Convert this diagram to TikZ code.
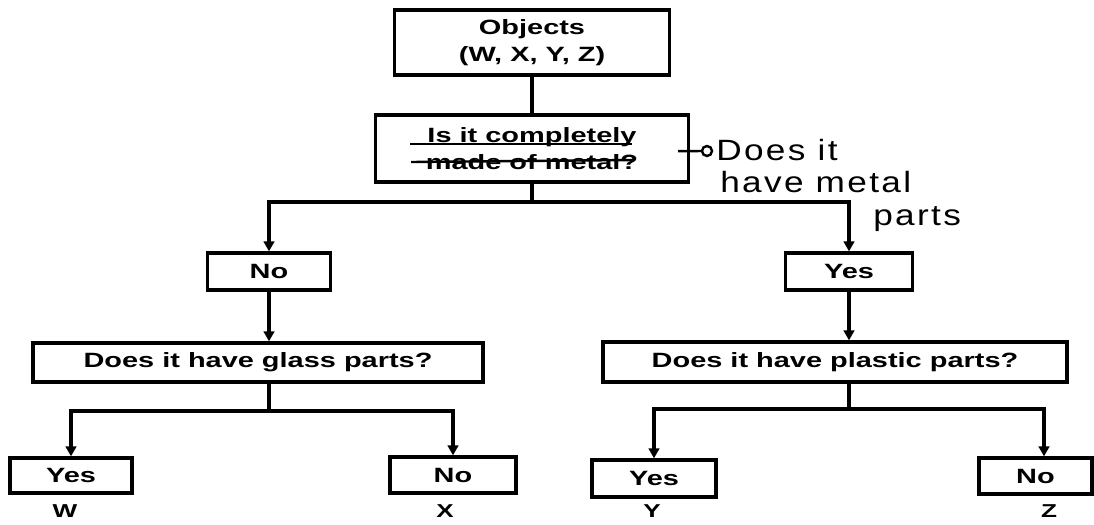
\documentclass[tikz,border=0pt]{standalone}
\usepackage{fontspec}
\setmainfont{Liberation Sans}
\newfontfamily\bx{Liberation Sans}[FakeStretch=1.4]
\newfontfamily\hand{Liberation Sans}[FakeStretch=1.2,LetterSpace=8]
\usetikzlibrary{arrows.meta}
\tikzset{
  box/.style={draw, line width=2.5pt, inner sep=0pt, align=center,
    font=\bx\bfseries\fontsize{15.5}{20}\selectfont},
  conn/.style={line width=2.6pt},
  arr/.style={conn, -{Triangle[length=7.5pt,width=8pt]}},
  lbl/.style={font=\bx\bfseries\fontsize{14}{16}\selectfont, inner sep=0pt},
  handtxt/.style={font=\hand\fontsize{22}{24}\selectfont, inner sep=0pt, anchor=base west},
  penline/.style={line width=1.8pt},
}
\begin{document}
\begin{tikzpicture}[x=0.75pt,y=-0.75pt]
\useasboundingbox (0,0) rectangle (1094,524);

% boxes
\node[box, minimum width=206.25pt, minimum height=48.75pt] (obj) at (532,42.5) {Objects\\(W, X, Y, Z)};
\node[box, minimum width=234.75pt, minimum height=50.25pt] (q1) at (532,148.5) {Is it completely\\made of metal?};
\node[box, minimum width=92.25pt, minimum height=27.75pt] (no1) at (269,271.5) {No};
\node[box, minimum width=95.25pt, minimum height=27.75pt] (yes1) at (849,271.5) {Yes};
\node[box, minimum width=337.5pt, minimum height=29.25pt] (glass) at (258,362.5) {Does it have glass parts?};
\node[box, minimum width=348pt, minimum height=30pt] (plastic) at (835,362) {Does it have plastic parts?};
\node[box, minimum width=91.5pt, minimum height=26.25pt] (yesW) at (71,475.5) {Yes};
\node[box, minimum width=94.5pt, minimum height=27pt] (noX) at (453,475) {No};
\node[box, minimum width=93pt, minimum height=27.75pt] (yesY) at (654,478.5) {Yes};
\node[box, minimum width=84.75pt, minimum height=27pt] (noZ) at (1035.5,476) {No};

% outcome labels
\node[lbl] (lw) at (65,511) {W};
\node[lbl] (lx) at (445,511) {X};
\node[lbl] (ly) at (652,511) {Y};
\node[lbl] (lz) at (1049,511) {Z};

% helper coordinates
\coordinate (h1) at (0,202);
\coordinate (h2) at (0,411);
\coordinate (h3) at (0,409);
\coordinate (zx) at (1044,0);

% connectors
\draw[conn] (obj) -- (q1);
\draw[conn] (q1.south) -- (q1.south |- h1);
\draw[arr] (q1.south |- h1) -| (no1.north);
\draw[arr] (q1.south |- h1) -| (yes1.north);
\draw[arr] (no1) -- (no1 |- glass.north);
\draw[arr] (yes1) -- (yes1 |- plastic.north);
\draw[conn] (no1 |- glass.south) -- (no1 |- h2);
\draw[arr] (no1 |- h2) -| (yesW.north);
\draw[arr] (no1 |- h2) -| (noX.north);
\draw[conn] (yes1 |- plastic.south) -- (yes1 |- h3);
\draw[arr] (yes1 |- h3) -| (yesY.north);
\draw[arr] (yes1 |- h3) -| (noZ.north -| zx);

% handwritten edits
\draw[penline] (410,144) -- (632,144);
\draw[penline] (411,162) -- (634,160);
\coordinate (circ) at (707,151);
\draw[penline, shorten >=3.75pt] ([xshift=-9pt,yshift=-2pt]q1.east) -- (circ);
\draw[penline] (circ) circle (5);
\node[handtxt] (n1) at (716,161) {Does it};
\node[handtxt] (n2) at (720,192) {have metal};
\node[handtxt] (n3) at (873,225) {parts};
\end{tikzpicture}
\end{document}
